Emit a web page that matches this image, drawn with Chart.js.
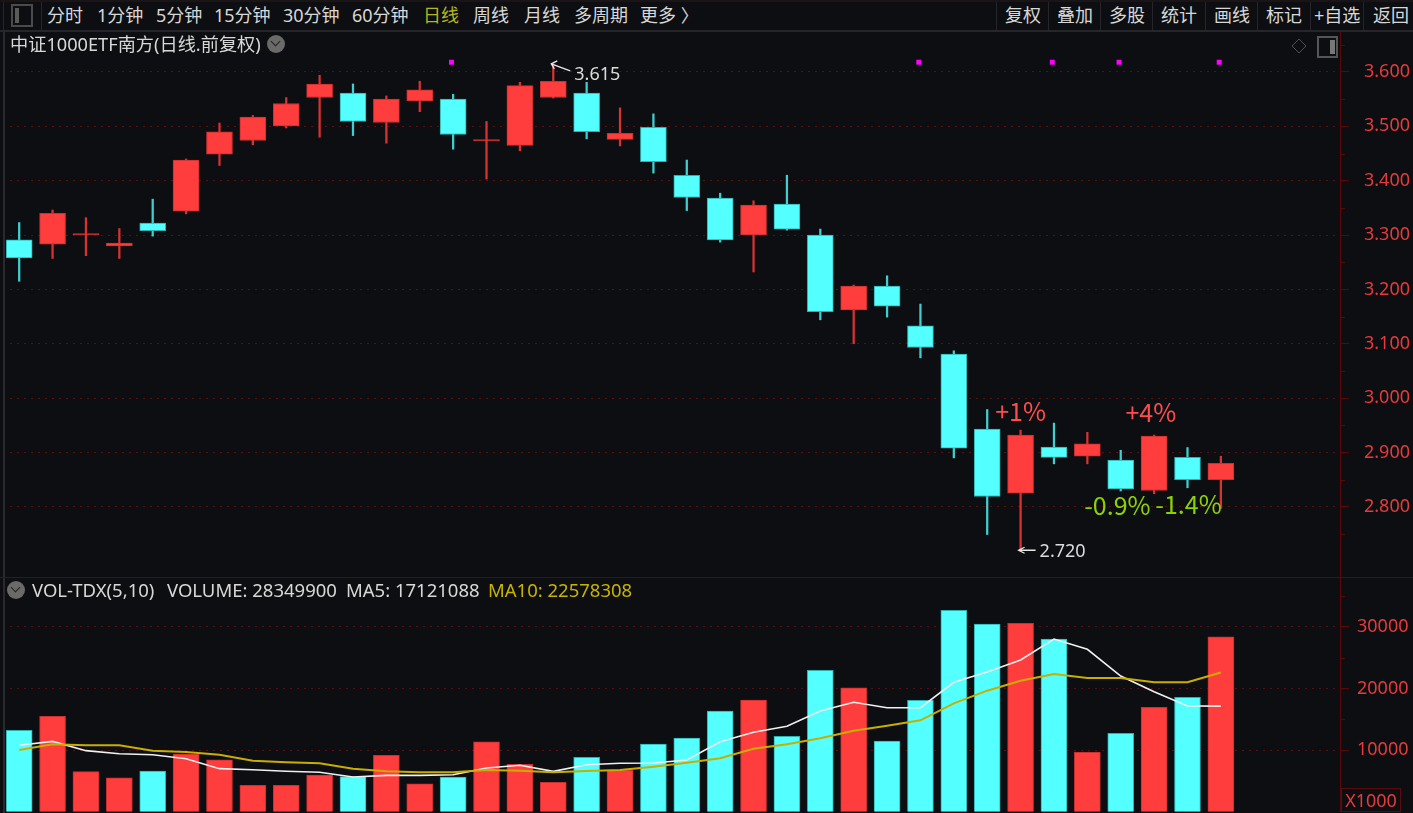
<!DOCTYPE html>
<html>
<head>
<meta charset="utf-8">
<title>中证1000ETF南方</title>
<script src="https://cdn.jsdelivr.net/npm/chart.js@4"></script>
<style>
  html, body { margin: 0; padding: 0; background: #0d0e11; overflow: hidden; }
  body { width: 1413px; height: 813px; position: relative; font-family: "Noto Sans", "Noto Sans CJK SC", sans-serif; color: #d8d8d8; }
  canvas { position: absolute; left: 0; }
  #mainChart { top: 32px; }
  #volChart { top: 577px; }
  .t { position: absolute; font-size: 18px; line-height: 24px; white-space: nowrap; }
  .legend { font-size: 18.5px; }
  .bar { position: absolute; background: #26262a; }
  .round { position: absolute; width: 18px; height: 18px; border-radius: 50%; background: #6a6a6a; }
  .round:after { content: ""; position: absolute; left: 5px; top: 3px; width: 6px; height: 6px; border-right: 1.5px solid #222; border-bottom: 1.5px solid #222; transform: rotate(45deg); }
</style>
</head>
<body>
<canvas id="mainChart" width="1413" height="545"></canvas>
<canvas id="volChart" width="1413" height="236"></canvas>

<div class="bar" style="left:0;top:0;width:1413px;height:2px;background:#1a1416"></div>
<div class="bar" style="left:0;top:30px;width:1413px;height:2px"></div>
<div class="bar" style="left:3px;top:32px;width:2px;height:781px;background:#2a2a2e"></div>
<div class="bar" style="left:3px;top:2px;width:1px;height:28px"></div>
<div class="bar" style="left:41px;top:2px;width:1px;height:28px"></div>
<div style="position:absolute;left:11px;top:4px;width:18px;height:19px;border:2px solid #4a4a4a"><div style="position:absolute;left:2px;top:2px;width:4px;height:15px;background:#5a5a5a"></div></div>
<div id="toolbar"></div>

<div class="t" style="left:10px;top:32px;font-size:18.2px">中证1000ETF南方(日线.前复权)</div>
<div class="round" style="left:267px;top:35px"></div>
<div style="position:absolute;left:1293px;top:40px;width:10px;height:10px;border:1.5px solid #555;transform:rotate(45deg) scale(.9,.9)"></div>
<div style="position:absolute;left:1317px;top:36px;width:17px;height:18px;border:2px solid #555"><div style="position:absolute;right:1px;top:2px;width:5px;height:14px;background:#777"></div></div>

<div class="round" style="left:7px;top:581px"></div>
<div class="t legend" style="left:32px;top:578px">VOL-TDX(5,10)</div>
<div class="t legend" style="left:167px;top:578px">VOLUME: 28349900</div>
<div class="t legend" style="left:346px;top:578px">MA5: 17121088</div>
<div class="t legend" style="left:488px;top:578px;color:#c8b400">MA10: 22578308</div>
<div class="t" style="left:1341px;top:788px;width:58px;height:22px;line-height:22px;border:1px solid #5a0c0c;color:#e53b3b;text-align:center">X1000</div>

<script>
// 工具栏文字
const leftTabs = ["分时", "1分钟", "5分钟", "15分钟", "30分钟", "60分钟", "日线", "周线", "月线", "多周期", "更多 〉"];
const leftTabX = [47, 97, 156, 214, 283, 352, 423, 473, 524, 574, 640];
const rightTabs = ["复权", "叠加", "多股", "统计", "画线", "标记", "+自选", "返回"];
const rightTabX = [1005, 1057, 1109, 1161, 1214, 1266, 1314, 1373];
const rightSepX = [996, 1048, 1100, 1152, 1205, 1257, 1310, 1363];

// 日线数据 (开, 收, 高, 低)
const opens = [3.291, 3.283, 3.300, 3.280, 3.322, 3.344, 3.449, 3.474, 3.501, 3.553, 3.561, 3.507, 3.547, 3.550, 3.473, 3.465, 3.553, 3.561, 3.476, 3.498, 3.410, 3.368, 3.300, 3.357, 3.300, 3.162, 3.206, 3.133, 3.081, 2.943, 2.825, 2.910, 2.893, 2.886, 2.830, 2.891, 2.850];
const closes = [3.258, 3.340, 3.301, 3.285, 3.308, 3.438, 3.490, 3.517, 3.542, 3.578, 3.509, 3.550, 3.567, 3.485, 3.475, 3.575, 3.583, 3.490, 3.487, 3.435, 3.369, 3.291, 3.355, 3.311, 3.159, 3.206, 3.169, 3.093, 2.908, 2.819, 2.932, 2.891, 2.916, 2.833, 2.930, 2.850, 2.880];
const highs = [3.323, 3.346, 3.332, 3.312, 3.366, 3.440, 3.506, 3.520, 3.553, 3.594, 3.578, 3.556, 3.583, 3.559, 3.509, 3.581, 3.615, 3.581, 3.534, 3.523, 3.438, 3.377, 3.363, 3.410, 3.311, 3.208, 3.225, 3.173, 3.087, 2.979, 2.941, 2.954, 2.937, 2.904, 2.932, 2.909, 2.893];
const lows = [3.215, 3.257, 3.262, 3.257, 3.298, 3.339, 3.428, 3.466, 3.497, 3.480, 3.483, 3.469, 3.527, 3.458, 3.403, 3.455, 3.552, 3.477, 3.464, 3.414, 3.345, 3.287, 3.232, 3.309, 3.144, 3.100, 3.149, 3.074, 2.890, 2.749, 2.720, 2.879, 2.879, 2.829, 2.824, 2.835, 2.797];

// 成交量 (X1000) 和均线
const volumes = [13200, 15470, 6490, 5510, 6600, 9360, 8430, 4280, 4280, 5950, 5680, 9150, 4540, 5630, 11350, 7690, 4770, 8820, 6720, 10980, 11950, 16330, 18120, 12230, 22940, 20110, 11470, 18070, 32670, 30450, 30560, 28010, 9630, 12720, 16930, 18560, 28350];
const ma5 = [10770, 11410, 9900, 9410, 9250, 8600, 6980, 6810, 6550, 6390, 5630, 5900, 5900, 6000, 7090, 7530, 6550, 7620, 7850, 7900, 8390, 11350, 12880, 13850, 16330, 17740, 16870, 16870, 20990, 22660, 24610, 28010, 26340, 22010, 19470, 17150, 17121];
const ma10 = [10010, 10930, 10770, 10770, 9900, 9680, 9250, 8270, 8010, 7850, 6980, 6550, 6390, 6390, 6760, 6650, 6390, 6600, 6760, 7300, 7950, 8660, 10220, 10930, 11900, 13140, 13950, 14830, 17580, 19630, 21250, 22340, 21690, 21690, 20990, 20990, 22578];

// 坐标轴刻度
const priceTicks = [2.8, 2.9, 3.0, 3.1, 3.2, 3.3, 3.4, 3.5, 3.6];
const priceMinorTicks = [2.75, 2.85, 2.95, 3.05, 3.15, 3.25, 3.35, 3.45, 3.55, 3.65];
const volTicks = [10000, 20000, 30000];
const volMinorTicks = [15000, 25000, 35000];

// 顶部紫色标记
const markIndex = [12.95, 26.95, 30.95, 32.95, 35.95];
const markValue = [3.618, 3.618, 3.618, 3.618, 3.618];

// 最高最低价标注
const extremeIndex = [16, 30];
const extremeValue = [3.615, 2.72];
const extremeLabel = ["3.615", "2.720"];

// 手写百分比标注
const noteText = ["+1%", "+4%", "-0.9%", "-1.4%"];
const noteIndex = [30, 33.9, 32.9, 35.03];
const noteValue = [2.976, 2.974, 2.803, 2.804];
const noteColor = ["#ff4d4d", "#ff4d4d", "#8ed100", "#8ed100"];

const RED = "#ff3d3d";
const CYAN = "#54ffff";
const GRID = "#5e0e0e";
const AXIS = "#5a0808";
const LABEL = "#e53b3b";
const X_MIN = -0.485;
const X_MAX = 39.569;

function addTab(text, x, color) {
  const el = document.createElement("div");
  el.className = "t";
  el.textContent = text;
  el.style.left = x + "px";
  el.style.top = "3px";
  if (color) el.style.color = color;
  document.getElementById("toolbar").appendChild(el);
}
leftTabs.forEach((t, i) => addTab(t, leftTabX[i], t === "日线" ? "#b5b51e" : null));
rightTabs.forEach((t, i) => addTab(t, rightTabX[i], null));
rightSepX.forEach((x) => {
  const el = document.createElement("div");
  el.className = "bar";
  el.style.cssText = "left:" + x + "px;top:2px;width:1px;height:28px";
  document.getElementById("toolbar").appendChild(el);
});

const isUp = opens.map((o, i) => closes[i] >= o);
const fillColors = isUp.map((up) => (up ? RED : CYAN));
const edgeColors = isUp.map((up) => (up ? "#c93030" : "#2fb0b0"));
const wickColors = isUp.map((up) => (up ? "#d93232" : "#3fcfcf"));

function xScale() {
  return { type: "linear", min: X_MIN, max: X_MAX, display: false, offset: false };
}

function yScale(min, max, ticks, padding, format) {
  return {
    position: "right",
    min: min,
    max: max,
    afterBuildTicks: (scale) => {
      scale.ticks = ticks.map((v) => ({ value: v }));
    },
    afterFit: (scale) => {
      scale.width = 73;
      scale.paddingTop = 0;
      scale.paddingBottom = 0;
    },
    grid: { color: GRID, tickColor: AXIS, tickLength: 9, lineWidth: 1 },
    border: { display: true, color: AXIS, width: 1, dash: [2, 5] },
    ticks: {
      color: LABEL,
      padding: padding,
      autoSkip: false,
      font: { family: '"Noto Sans", "Noto Sans CJK SC"', size: 18 },
      callback: format,
    },
  };
}

// 副刻度只画短线
function minorTickPlugin(minor) {
  return {
    id: "minorTicks",
    afterDraw(chart) {
      const y = chart.scales.y;
      const ctx = chart.ctx;
      ctx.save();
      ctx.strokeStyle = AXIS;
      minor.forEach((v) => {
        const py = Math.round(y.getPixelForValue(v)) + 0.5;
        if (py < y.top || py > y.bottom) return;
        ctx.beginPath();
        ctx.moveTo(y.left, py);
        ctx.lineTo(y.left + 5, py);
        ctx.stroke();
      });
      ctx.restore();
    },
  };
}

const notesPlugin = {
  id: "notes",
  afterDatasetsDraw(chart) {
    const { ctx, scales } = chart;
    ctx.save();
    ctx.textBaseline = "middle";

    ctx.font = '25px "Noto Sans CJK SC", "Noto Sans"';
    ctx.textAlign = "center";
    noteText.forEach((t, i) => {
      ctx.fillStyle = noteColor[i];
      ctx.fillText(t, scales.x.getPixelForValue(noteIndex[i]), scales.y.getPixelForValue(noteValue[i]));
    });

    ctx.font = '18px "Noto Sans", "Noto Sans CJK SC"';
    ctx.textAlign = "left";
    ctx.strokeStyle = "#e8e8e8";
    ctx.fillStyle = "#dcdcdc";
    ctx.lineWidth = 1.3;
    extremeIndex.forEach((idx, i) => {
      const px = scales.x.getPixelForValue(idx) - 2;
      const py = scales.y.getPixelForValue(extremeValue[i]);
      const isHigh = i === 0;
      const endX = px + (isHigh ? 19 : 17);
      const endY = py + (isHigh ? 7 : 0);
      ctx.beginPath();
      ctx.moveTo(endX, endY);
      ctx.lineTo(px, py);
      ctx.moveTo(px + 6, py - 3);
      ctx.lineTo(px, py);
      ctx.lineTo(px + (isHigh ? 3 : 6), py + (isHigh ? 5 : 3));
      ctx.stroke();
      ctx.fillText(extremeLabel[i], endX + 4, py + (isHigh ? 11 : 2));
    });
    ctx.restore();
  },
};

new Chart(document.getElementById("mainChart"), {
  type: "bar",
  data: {
    datasets: [
      {
        type: "line",
        data: markIndex.map((x, i) => ({ x: x, y: markValue[i] })),
        showLine: false,
        pointStyle: "rect",
        pointRadius: 3.5,
        pointBackgroundColor: "#ff00ff",
        pointBorderWidth: 0,
        order: 0,
      },
      {
        data: opens.map((o, i) => ({ x: i, y: [o, closes[i]] })),
        backgroundColor: fillColors,
        borderColor: edgeColors,
        borderWidth: 1,
        borderSkipped: false,
        barThickness: 26,
        minBarLength: 1.5,
        grouped: false,
        order: 1,
      },
      {
        data: lows.map((l, i) => ({ x: i, y: [l, highs[i]] })),
        backgroundColor: wickColors,
        borderWidth: 0,
        barThickness: 1.6,
        grouped: false,
        order: 2,
      },
    ],
  },
  options: {
    responsive: false,
    animation: false,
    layout: { autoPadding: false, padding: { left: 3, right: 0, top: 0, bottom: 0 } },
    plugins: { legend: { display: false }, tooltip: { enabled: false } },
    scales: {
      x: xScale(),
      y: yScale(2.6708, 3.6736, priceTicks, 15, (v) => Number(v).toFixed(3)),
    },
  },
  plugins: [minorTickPlugin(priceMinorTicks), notesPlugin],
});

new Chart(document.getElementById("volChart"), {
  type: "bar",
  data: {
    datasets: [
      {
        type: "line",
        data: ma5.map((v, i) => ({ x: i, y: v })),
        borderColor: "#f0f0f0",
        borderWidth: 1.6,
        pointRadius: 0,
        tension: 0,
        order: 1,
      },
      {
        type: "line",
        data: ma10.map((v, i) => ({ x: i, y: v })),
        borderColor: "#c9ae00",
        borderWidth: 2,
        pointRadius: 0,
        tension: 0,
        order: 0,
      },
      {
        data: volumes.map((v, i) => ({ x: i, y: v })),
        backgroundColor: fillColors,
        borderColor: edgeColors,
        borderWidth: 1,
        borderSkipped: "bottom",
        barThickness: 26,
        grouped: false,
        order: 2,
      },
    ],
  },
  options: {
    responsive: false,
    animation: false,
    layout: { autoPadding: false, padding: { left: 3, right: 0, top: 0, bottom: 1.3 } },
    plugins: { legend: { display: false }, tooltip: { enabled: false } },
    scales: {
      x: xScale(),
      y: yScale(0, 38070, volTicks, 8, (v) => String(v)),
    },
  },
  plugins: [minorTickPlugin(volMinorTicks)],
});
</script>
<div class="bar" style="left:0;top:577px;width:1413px;height:1px;background:#5a0808"></div>
</body>
</html>
